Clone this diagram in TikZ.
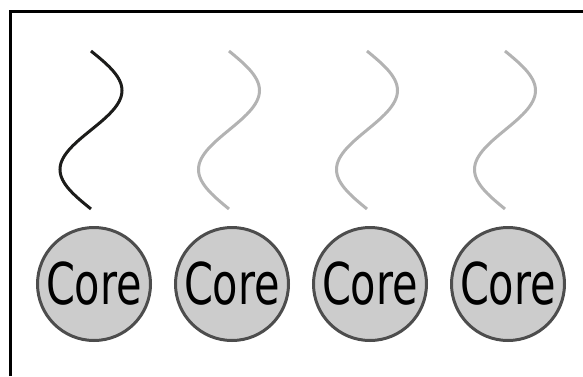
\documentclass[tikz,border=0pt]{standalone}
\usepackage{fontspec}
\usepackage{tikz}
\newfontfamily\corefont{DejaVu Sans}
\definecolor{coreedge}{HTML}{4D4D4D}
\definecolor{corefill}{HTML}{CCCCCC}
\definecolor{heatdark}{HTML}{1C1C1A}
\definecolor{heatlight}{HTML}{B3B3B3}

\begin{document}
\begin{tikzpicture}[x=0.75pt,y=0.75pt,yscale=-1,xscale=1,
  core/.style={circle,draw=coreedge,fill=corefill,line width=2.25pt,
    minimum size=84.75pt,inner sep=0pt,font=\corefont\fontsize{43.2pt}{50pt}\selectfont},
  heat/.style={line width=2.25pt,draw=heatlight}]
\useasboundingbox (0,0) rectangle (583,376);

%Frame (only left and top edges show)
\draw [line width=2.25pt] (10.5,376) |- (583,11.5);

%Cores
\foreach \i in {1,...,4} {
  \pgfmathsetmacro{\cx}{94+138*(\i-1)}
  \node [core] (core\i) at (\cx,284) {\scalebox{0.72}[1]{Core}};
}

%Waves above the cores
\draw [heat,draw=heatdark] plot [domain=0:1,samples=61,smooth] ({91+31*sin(360*\x)},{51+158*\x});
\foreach \wx in {229,367,505}
  \draw [heat] plot [domain=0:1,samples=61,smooth] ({\wx+30.5*sin(360*\x)},{51+158*\x});

\end{tikzpicture}
\end{document}
